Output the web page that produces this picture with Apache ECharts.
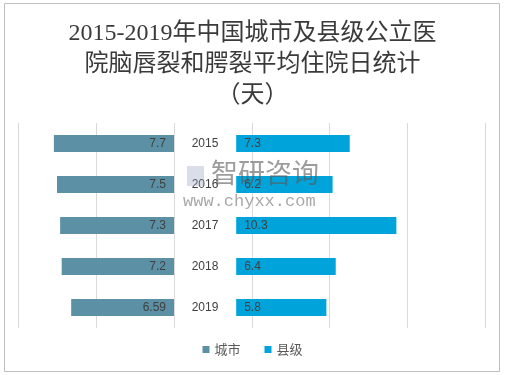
<!DOCTYPE html>
<html><head><meta charset="utf-8">
<script src="https://cdn.jsdelivr.net/npm/echarts@6/dist/echarts.min.js"></script>
<style>html,body{margin:0;padding:0;background:#fff}#c{width:505px;height:375px}</style>
</head><body><div id="c"></div>
<script>
const years = ['2015','2016','2017','2018','2019'];
const cityValues = [7.7, 7.5, 7.3, 7.2, 6.59];
const countyValues = [7.3, 6.2, 10.3, 6.4, 5.8];
const seriesNames = ['城市','县级'];
const titleText = '2015-2019年中国城市及县级公立医\n院脑唇裂和腭裂平均住院日统计\n（天）';

const chart = echarts.init(document.getElementById('c'));
const gridTop = 123, gridH = 205;
const lblStyle = {color:'#404040', fontSize:12, fontFamily:'Liberation Sans, Noto Sans CJK SC'};
chart.setOption({
  animation:false,
  title:{text:titleText, left:'center', top:13, textStyle:{fontSize:24, fontWeight:'normal', color:'#3a3a3a', lineHeight:31, fontFamily:'Liberation Serif, Noto Sans CJK SC'}},
  legend:{data:seriesNames, bottom:14, left:'center', itemWidth:7, itemHeight:7, itemGap:24, icon:'rect',
    textStyle:{color:'#595959', fontSize:13, fontFamily:'Noto Sans CJK SC'}},
  grid:[
    {left:18, right:331, top:gridTop, height:gridH},
    {left:174, right:20, top:gridTop, height:gridH}
  ],
  xAxis:[
    {gridIndex:0, type:'value', min:0, max:10, interval:5, inverse:true, axisLabel:{show:false}, axisLine:{show:false}, axisTick:{show:false}, splitLine:{lineStyle:{color:'#d9d9d9'}}},
    {gridIndex:1, type:'value', min:-4, max:16, interval:5, axisLabel:{show:false}, axisLine:{show:false}, axisTick:{show:false}, splitLine:{lineStyle:{color:'#d9d9d9'}}}
  ],
  yAxis:[
    {gridIndex:0, type:'category', data:years, inverse:true, position:'right', axisLine:{show:false}, axisTick:{show:false},
      axisLabel:Object.assign({align:'center', margin:31}, lblStyle)},
    {gridIndex:1, type:'category', data:years, inverse:true, axisLine:{show:false}, axisTick:{show:false}, axisLabel:{show:false}}
  ],
  graphic:[
    {type:'rect', shape:{x:4.5, y:3.5, width:495, height:368}, style:{fill:'none', stroke:'#bfbfbf', lineWidth:1}, silent:true, z:-1},
    {type:'rect', shape:{x:187, y:166, width:17, height:20}, style:{fill:'rgba(150,160,190,0.35)'}, silent:true, z:10},
    {type:'text', left:211, top:159, style:{text:'智研咨询', fontSize:27, fill:'rgba(90,90,90,0.6)', fontFamily:'Noto Sans CJK SC'}, silent:true, z:10},
    {type:'text', left:183, top:193, style:{text:'www.chyxx.com', fontSize:17, fill:'rgba(110,110,110,0.6)', fontFamily:'Liberation Mono'}, silent:true, z:10}
  ],
  series:[
    {name:seriesNames[0], type:'bar', xAxisIndex:0, yAxisIndex:0, data:cityValues, barWidth:17,
      itemStyle:{color:'#5b90a5'}, label:Object.assign({show:true, position:'insideRight', distance:8}, lblStyle)},
    {name:seriesNames[1], type:'bar', xAxisIndex:1, yAxisIndex:1, data:countyValues, barWidth:17,
      itemStyle:{color:'#00a3da'}, label:Object.assign({show:true, position:'insideLeft', distance:8}, lblStyle)}
  ]
});
</script></body></html>
